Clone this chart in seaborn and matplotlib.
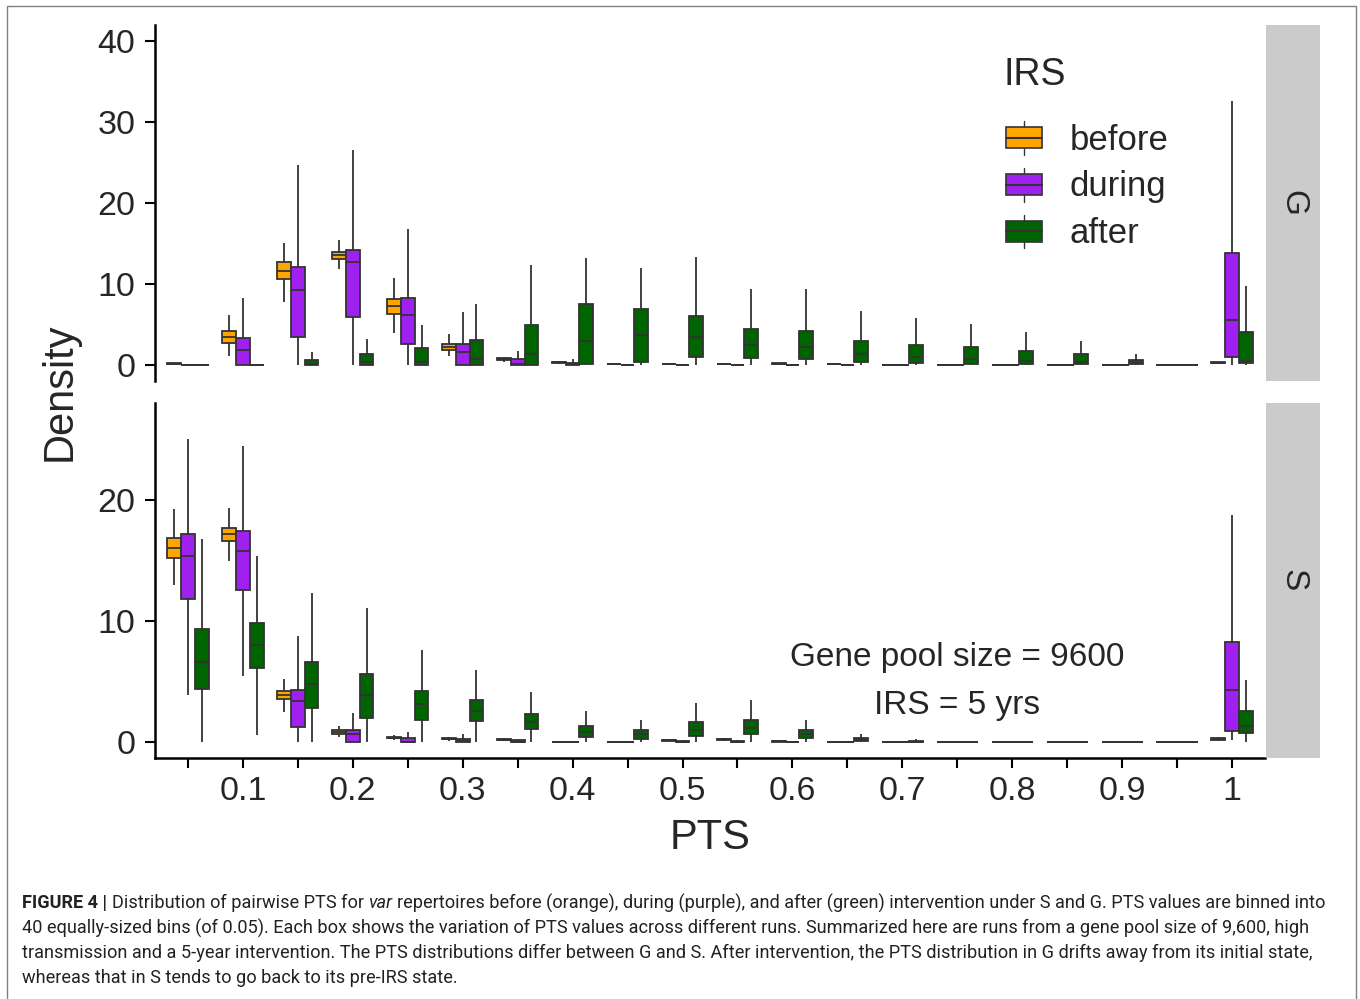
import numpy as np
import pandas as pd
import matplotlib
matplotlib.use("Agg")
import matplotlib.pyplot as plt
import seaborn as sns
from matplotlib.patches import Patch, Rectangle
from matplotlib.lines import Line2D
from matplotlib.legend_handler import HandlerBase

# PTS bins (categories) and which ones carry a tick label
bins = ["0.05", "0.1", "0.15", "0.2", "0.25", "0.3", "0.35", "0.4", "0.45", "0.5",
        "0.55", "0.6", "0.65", "0.7", "0.75", "0.8", "0.85", "0.9", "0.95", "1"]
tick_labels = ["", "0.1", "", "0.2", "", "0.3", "", "0.4", "", "0.5",
               "", "0.6", "", "0.7", "", "0.8", "", "0.9", "", "1"]
phases = ["before", "during", "after"]
colors = {"before": "#FFA500", "during": "#A020F0", "after": "#006400"}

Z = (0, 0, 0, 0, 0)
# five-number summaries per bin: (lower whisker, q1, median, q3, upper whisker)
g_before = [(0.1, 0.12, 0.15, 0.18, 0.2), (1.11, 2.64, 3.38, 4.12, 6.19),
            (7.71, 10.6, 11.63, 12.66, 15.0), (11.79, 13.07, 13.53, 13.98, 15.38),
            (3.92, 6.27, 7.22, 8.08, 10.72), (1.03, 1.77, 2.19, 2.6, 3.75),
            (0.3, 0.6, 0.7, 0.8, 1.0), (0.1, 0.2, 0.29, 0.35, 0.5),
            (0.05, 0.08, 0.1, 0.12, 0.15), (0.05, 0.08, 0.1, 0.12, 0.15),
            (0.05, 0.08, 0.1, 0.12, 0.15), (0.08, 0.12, 0.15, 0.18, 0.2),
            (0.03, 0.06, 0.08, 0.1, 0.12), Z, Z, Z, Z, Z, Z,
            (0.15, 0.2, 0.25, 0.3, 0.35)]
g_during = [Z, (0, 0, 1.86, 3.34, 8.2), (0, 3.46, 9.24, 12.08, 24.74),
            (0, 5.86, 12.7, 14.23, 26.6), (0, 2.56, 6.1, 8.29, 16.78),
            (0, 0, 1.57, 2.6, 6.5), (0, 0, 0.1, 0.66, 1.65), (0, 0, 0.05, 0.2, 0.66),
            Z, Z, Z, Z, Z, Z, Z, Z, Z, Z, Z,
            (0, 0.95, 5.6, 13.79, 32.6)]
g_after = [Z, Z, (0, 0, 0.1, 0.62, 1.57), (0, 0, 0.29, 1.28, 3.2),
           (0, 0, 0.41, 2.02, 4.95), (0, 0, 0.7, 3.05, 7.5),
           (0, 0, 1.34, 4.96, 12.35), (0, 0.16, 2.93, 7.5, 13.16),
           (0, 0.41, 3.74, 6.87, 11.93), (0, 0.95, 3.46, 6.09, 13.29),
           (0, 0.9, 2.43, 4.4, 9.42), (0, 0.66, 2.22, 4.2, 9.34),
           (0, 0.37, 1.32, 2.96, 6.7), (0, 0.26, 0.95, 2.5, 5.76),
           (0, 0.16, 0.66, 2.18, 5.1), (0, 0.16, 0.5, 1.69, 4.0),
           (0, 0.16, 0.33, 1.28, 2.96), (0, 0.08, 0.25, 0.58, 1.28), Z,
           (0, 0.25, 0.53, 4.07, 9.7)]

s_before = [(13.0, 15.21, 16.0, 16.83, 19.23), (14.93, 16.58, 17.19, 17.71, 19.34),
            (2.53, 3.53, 3.86, 4.19, 5.21), (0.44, 0.72, 0.88, 1.05, 1.35),
            (0.17, 0.33, 0.39, 0.45, 0.6), (0.11, 0.25, 0.3, 0.35, 0.47),
            (0.1, 0.18, 0.22, 0.26, 0.33), (0, 0.02, 0.03, 0.04, 0.06),
            (0, 0.01, 0.02, 0.03, 0.05), (0.08, 0.13, 0.16, 0.19, 0.22),
            (0.11, 0.2, 0.25, 0.3, 0.37), (0.03, 0.06, 0.08, 0.1, 0.13),
            Z, Z, Z, Z, Z, Z, Z,
            (0.11, 0.22, 0.28, 0.34, 0.44)]
s_during = [(3.86, 11.85, 15.4, 17.22, 25.01), (5.45, 12.56, 15.81, 17.41, 24.46),
            (0, 1.27, 3.39, 4.3, 8.79), (0, 0, 0.72, 0.99, 2.4),
            (0, 0, 0.05, 0.36, 0.88), (0, 0, 0.08, 0.3, 0.66),
            (0, 0, 0.05, 0.17, 0.3), Z, Z, (0, 0, 0.03, 0.1, 0.15),
            (0, 0, 0.03, 0.1, 0.2), Z, Z, Z, Z, Z, Z, Z, Z,
            (0.22, 0.91, 4.35, 8.24, 18.76)]
s_after = [(0, 4.41, 6.61, 9.37, 16.75), (0.58, 6.09, 7.99, 9.86, 15.4),
           (0, 2.84, 4.77, 6.64, 12.29), (0, 2.01, 3.86, 5.67, 11.1),
           (0, 1.87, 3.14, 4.24, 7.6), (0, 1.74, 2.6, 3.47, 6.0),
           (0, 1.07, 1.68, 2.37, 4.16), (0, 0.44, 0.85, 1.35, 2.62),
           (0, 0.25, 0.69, 0.99, 1.87), (0, 0.55, 1.05, 1.65, 3.2),
           (0, 0.69, 1.18, 1.82, 3.47), (0, 0.36, 0.69, 0.99, 1.87),
           (0, 0.08, 0.2, 0.36, 0.72), (0, 0.02, 0.05, 0.1, 0.25),
           Z, Z, Z, Z, Z,
           (0, 0.77, 1.35, 2.56, 5.12)]

caption_lines = [
    [("FIGURE 4 |", "bold", "normal"), ("Distribution of pairwise PTS for", "normal", "normal"),
     ("var", "normal", "italic"),
     ("repertoires before (orange), during (purple), and after (green) intervention under S and G. PTS values are binned into", "normal", "normal")],
    [("40 equally-sized bins (of 0.05). Each box shows the variation of PTS values across different runs. Summarized here are runs from a gene pool size of 9,600, high", "normal", "normal")],
    [("transmission and a 5-year intervention. The PTS distributions differ between G and S. After intervention, the PTS distribution in G drifts away from its initial state,", "normal", "normal")],
    [("whereas that in S tends to go back to its pre-IRS state.", "normal", "normal")],
]


def long_frame(series):
    rows = []
    for phase, summ in zip(phases, series):
        for b, five in zip(bins, summ):
            for v in five:
                rows.append((b, phase, v))
    return pd.DataFrame(rows, columns=["PTS", "IRS", "Density"])


sns.set_style("white")
plt.rcParams["font.family"] = ["Liberation Sans", "DejaVu Sans"]
MAIN_FONT = ["Liberation Sans", "DejaVu Sans"]

W, H = 1360, 999
fig = plt.figure(figsize=(W / 100, H / 100), dpi=100)
EDGE = "#333333"

ax_g = fig.add_axes([155 / W, 1 - 381 / H, 1110 / W, 356 / H])
ax_s = fig.add_axes([155 / W, 1 - 758 / H, 1110 / W, 355 / H])

for ax, series, ylim, yt in [(ax_g, (g_before, g_during, g_after), (-2, 42), [0, 10, 20, 30, 40]),
                             (ax_s, (s_before, s_during, s_after), (-1.3, 28.0), [0, 10, 20])]:
    sns.boxplot(data=long_frame(series), x="PTS", y="Density", hue="IRS",
                order=bins, hue_order=phases, palette=colors, saturation=1,
                width=0.75, gap=0, whis=(0, 100), showcaps=False, fliersize=0,
                linewidth=1.3, linecolor=EDGE, legend=False, ax=ax)
    ax.set_xlim(-0.6, 19.6)
    ax.set_ylim(*ylim)
    ax.set_yticks(yt)
    ax.set_xlabel("")
    ax.set_ylabel("")
    for sp in ["top", "right"]:
        ax.spines[sp].set_visible(False)
    ax.spines["left"].set_linewidth(1.8)
    ax.spines["left"].set_color("black")
    ax.spines["bottom"].set_linewidth(1.8)
    ax.spines["bottom"].set_color("black")
    ax.tick_params(axis="y", length=7, width=1.5, color="black", labelsize=24.5, pad=7, left=True)
    ax.set_facecolor("white")

ax_g.spines["bottom"].set_visible(False)
ax_g.tick_params(axis="x", bottom=False, labelbottom=False)
ax_s.set_xticks(range(len(bins)))
ax_s.set_xticklabels(tick_labels)
ax_s.tick_params(axis="x", length=7, width=1.5, color="black", labelsize=24.5, pad=6, bottom=True)

# facet strips
for lab, y0, hgt in [("G", 1 - 381 / H, 356 / H), ("S", 1 - 758 / H, 355 / H)]:
    st = fig.add_axes([1266 / W, y0, 54 / W, hgt])
    st.set_facecolor("#CBCBCB")
    st.set_xticks([])
    st.set_yticks([])
    for sp in st.spines.values():
        sp.set_visible(False)
    st.text(0.5, 0.5, lab, rotation=-90, ha="center", va="center", fontsize=24,
            family=MAIN_FONT, transform=st.transAxes)

# annotation in S panel
ax_s.text(14, 7, "Gene pool size = 9600", ha="center", va="center", fontsize=24, family=MAIN_FONT)
ax_s.text(14, 3, "IRS = 5 yrs", ha="center", va="center", fontsize=24, family=MAIN_FONT)

fig.text(710 / W, 1 - 838 / H, "PTS", ha="center", va="center", fontsize=30, family=MAIN_FONT)
fig.text(60 / W, 1 - 392 / H, "Density", ha="center", va="center", rotation=90, fontsize=30,
         family=MAIN_FONT)


class BoxHandler(HandlerBase):
    def create_artists(self, legend, orig_handle, xdescent, ydescent, width, height, fontsize, trans):
        fc = orig_handle.get_facecolor()
        x0, y0 = -xdescent, -ydescent
        rect = Rectangle((x0, y0 + 0.19 * height), width, 0.62 * height,
                         facecolor=fc, edgecolor=EDGE, lw=1.2, transform=trans)
        med = Line2D([x0, x0 + width], [y0 + 0.5 * height] * 2, color=EDGE, lw=1.5, transform=trans)
        cx = x0 + width / 2
        w1 = Line2D([cx, cx], [y0, y0 + 0.19 * height], color=EDGE, lw=1.0, transform=trans)
        w2 = Line2D([cx, cx], [y0 + 0.81 * height, y0 + height], color=EDGE, lw=1.0, transform=trans)
        return [w1, w2, rect, med]


# legend title as its own text, keys below it
fig.text(1003 / W, 1 - 75 / H, "IRS", ha="left", va="center", fontsize=27, family=MAIN_FONT)
handles = [Patch(facecolor=colors[p]) for p in phases]
leg = fig.legend(handles, phases, handler_map={Patch: BoxHandler()},
                 loc="upper left", bbox_to_anchor=(1006 / W, 1 - 121 / H),
                 frameon=False, prop={"family": MAIN_FONT, "size": 25},
                 handlelength=1.04, handleheight=1.12,
                 handletextpad=0.8, labelspacing=0.32, borderpad=0, borderaxespad=0)

# outer frame
fig.patches.append(Rectangle((7 / W, -0.02), 1349 / W, 1 - 6 / H + 0.02, transform=fig.transFigure,
                             fill=False, edgecolor="#808080", lw=1.0))

# caption, fitted to the printed line width
cap_family = ["Roboto", "Liberation Sans"]
renderer = fig.canvas.get_renderer()


def seg_width(s, size, weight, style):
    t = fig.text(0, 0, s, fontsize=size, weight=weight, style=style, family=cap_family)
    w = t.get_window_extent(renderer).width
    t.remove()
    return w


def line_width(segs, size):
    sp = seg_width("x x", size, "normal", "normal") - seg_width("xx", size, "normal", "normal")
    return sum(seg_width(s, size, wt, st) for s, wt, st in segs) + sp * (len(segs) - 1), sp


w12, _ = line_width(caption_lines[0], 12)
cap_size = 12 * 1301 / w12
for i, segs in enumerate(caption_lines):
    _, sp = line_width(segs, cap_size)
    x = 22
    y = 1 - (903 + 25 * i) / H
    for s, wt, st in segs:
        fig.text(x / W, y, s, fontsize=cap_size, weight=wt, style=st, family=cap_family,
                 va="center", ha="left", color="#222222")
        x += seg_width(s, cap_size, wt, st) + sp

fig.savefig("out.png", dpi=100)
